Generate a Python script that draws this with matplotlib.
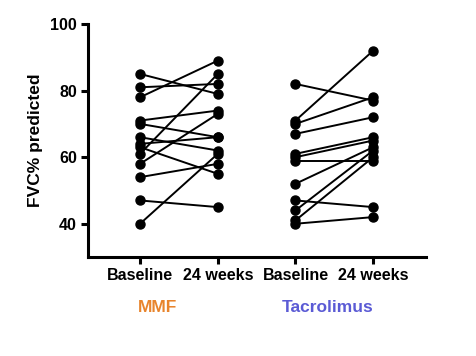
import numpy as np
import matplotlib
matplotlib.use("Agg")
import matplotlib.pyplot as plt

plt.rcParams['font.family'] = ['Liberation Sans', 'DejaVu Sans']
plt.rcParams['font.weight'] = 'bold'

# FVC% predicted, paired baseline -> 24 weeks
mmf_base = [85, 81, 78, 71, 70, 66, 64, 63, 61, 58, 54, 47, 40]
mmf_24w = [79, 82, 89, 74, 66, 62, 66, 55, 85, 73, 58, 45, 61]
tac_base = [82, 71, 70, 67, 61, 60, 59, 52, 47, 44, 41, 40]
tac_24w = [77, 92, 78, 72, 66, 65, 59, 63, 45, 62, 60, 42]

tick_labels = ['Baseline', '24 weeks', 'Baseline', '24 weeks']
groups = ['MMF', 'Tacrolimus']
group_colors = ['#E8842C', '#5B5BD5']

fig = plt.figure(figsize=(4.77, 3.56), dpi=100)
ax = fig.add_axes([0.1845, 0.278, 0.7086, 0.6545])

for b, w in zip(mmf_base, mmf_24w):
    ax.plot([1, 2], [b, w], color='black', lw=1.4, marker='o', ms=6.5, zorder=3)
for b, w in zip(tac_base, tac_24w):
    ax.plot([3, 4], [b, w], color='black', lw=1.4, marker='o', ms=6.5, zorder=3)

ax.set_xlim(0.33, 4.68)
ax.set_ylim(30, 100)
ax.set_yticks([40, 60, 80, 100])
ax.set_xticks([1, 2, 3, 4])
ax.set_xticklabels(tick_labels)
ax.set_ylabel('FVC% predicted', fontsize=12.5, fontweight='bold', labelpad=5)

for s in ['top', 'right']:
    ax.spines[s].set_visible(False)
for s in ['left', 'bottom']:
    ax.spines[s].set_linewidth(2.2)
ax.tick_params(width=2.2, length=5, labelsize=11.5, pad=3)

for x, name, c in zip([1.23, 3.41], groups, group_colors):
    ax.text(x, -0.215, name, transform=ax.get_xaxis_transform(), ha='center', va='center',
            fontsize=12.5, fontweight='bold', color=c)

fig.savefig('out.png', dpi=100)
